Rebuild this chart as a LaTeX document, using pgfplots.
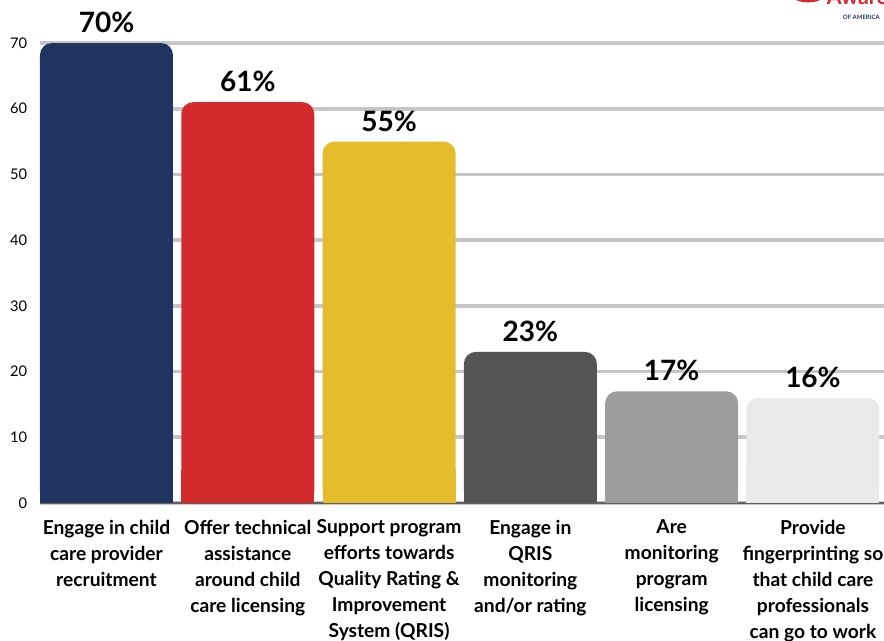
\documentclass[border=0pt]{standalone}
\usepackage{fontspec}
\setmainfont{Lato}
\usepackage{pgfplots}
\pgfplotsset{compat=1.18}
\definecolor{cNavy}{HTML}{1F3461}
\definecolor{cRed}{HTML}{D32B2B}
\definecolor{cYellow}{HTML}{E5BC2B}
\definecolor{cDark}{HTML}{555555}
\definecolor{cGray}{HTML}{9D9D9D}
\definecolor{cLight}{HTML}{EAEAEC}
\definecolor{cGrid}{HTML}{C6C6C6}
\pgfplotsset{
  mybar/.style={ybar, bar width=99.75pt, bar shift=0pt, draw=none, fill=#1},
  topbar/.style={mybar=#1, rounded corners=9pt,
    point meta=y,
    nodes near coords={\pgfmathprintnumber{\pgfplotspointmeta}\%},
    every node near coord/.append style={font=\bfseries\fontsize{21}{25}\selectfont,
      text=black, anchor=south, inner sep=0pt, yshift=7.5pt}},
}
\begin{document}
\begin{tikzpicture}
\path[use as bounding box] (0,0) rectangle (663pt,480.75pt);
\clip (0,0) rectangle (663pt,480.75pt);
% logo fragment (top right)
\node[anchor=base, text=cRed, font=\bfseries\fontsize{16}{16}\selectfont, inner sep=0pt] at (643pt,477pt) {Aware};
\fill[cRed] (606pt,485pt) ellipse (13pt and 6pt);
\fill[cNavy] (603pt,486pt) ellipse (9pt and 4pt);
\node[anchor=base, text=cNavy, font=\bfseries\fontsize{4.5}{5}\selectfont, inner sep=0pt] at (646pt,466pt) {OF AMERICA};
\begin{axis}[
  at={(30pt,103.5pt)}, anchor=south west,
  scale only axis, width=638pt, height=345pt,
  xmin=-0.4706, xmax=5.55, ymin=0, ymax=70,
  clip=false,
  axis lines*=left,
  x axis line style={draw=gray!75!black, line width=1pt},
  y axis line style={draw=none},
  major tick length=0pt,
  ytick={0,10,...,70},
  xtick={0,...,5},
  ymajorgrids,
  major grid style={draw=cGrid, line width=2.8pt},
  /pgf/number format/assume math mode=true,
  yticklabel style={font=\fontsize{11}{13}\selectfont, anchor=east, inner sep=0pt, xshift=-9.5pt},
  xticklabel style={font=\bfseries\fontsize{14.4}{19.5}\selectfont, align=center, anchor=north, inner sep=0pt, yshift=-12.5pt},
  xticklabels={
    {Engage in child\\care provider\\recruitment},
    {Offer technical\\assistance\\around child\\care licensing},
    {Support program\\efforts towards\\Quality Rating \&\\Improvement\\System (QRIS)},
    {Engage in\\QRIS\\monitoring\\and/or rating},
    {Are\\monitoring\\program\\licensing},
    {Provide\\fingerprinting so\\that child care\\professionals\\can go to work}},
]
\addplot[topbar=cNavy] coordinates {(0,70)};
\addplot[mybar=cNavy] coordinates {(0,5)};
\addplot[topbar=cRed] coordinates {(1,61)};
\addplot[mybar=cRed] coordinates {(1,5)};
\addplot[topbar=cYellow] coordinates {(2,55)};
\addplot[mybar=cYellow] coordinates {(2,5)};
\addplot[topbar=cDark] coordinates {(3,23)};
\addplot[mybar=cDark] coordinates {(3,5)};
\addplot[topbar=cGray] coordinates {(4,17)};
\addplot[mybar=cGray] coordinates {(4,5)};
\addplot[topbar=cLight] coordinates {(5,16)};
\addplot[mybar=cLight] coordinates {(5,5)};
\end{axis}
\end{tikzpicture}
\end{document}
